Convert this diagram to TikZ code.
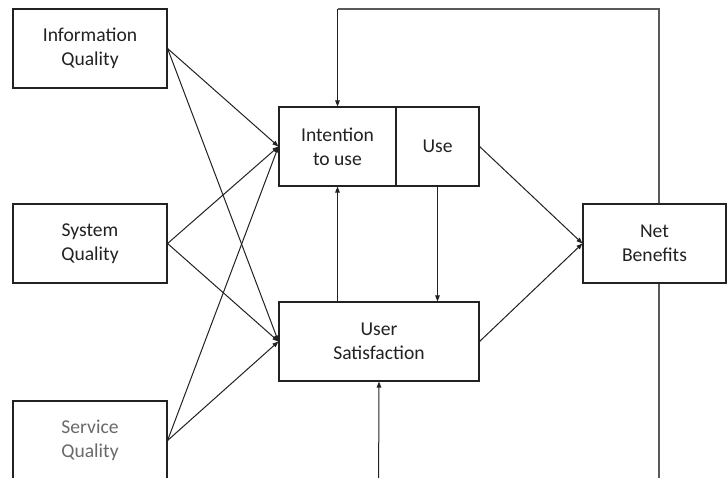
\documentclass[tikz,border=0pt]{standalone}
\usepackage{fontspec}
\setmainfont{Carlito}
\usetikzlibrary{arrows.meta}
\definecolor{ink}{HTML}{222222}
\definecolor{fade}{HTML}{6A6A6A}
\begin{document}
\begin{tikzpicture}[x=1pt,y=-1pt,
  box/.style={draw=ink, line width=1.1pt, fill=white, text=ink, align=center,
    minimum height=79pt, inner sep=0pt, font=\fontsize{19.6}{24}\selectfont},
  conn/.style={draw=ink, line width=1pt, -{Triangle[length=6pt,width=4.5pt]}},
  loop/.style={draw=ink!75, line width=1.2pt}]
\useasboundingbox (0,0) rectangle (727,478);
\clip (0,0) rectangle (727,478);
\fill[white] (0,0) rectangle (727,478);
% feedback corners
\coordinate (tr) at (659,9);
\coordinate (tl) at (337.5,9);
\coordinate (br) at (659,500);
\coordinate (bl) at (378.5,500);
% nodes
\node[box, minimum width=154pt] (info) at (90,48.5) {Information\\Quality};
\node[box, minimum width=154pt] (sys) at (90,243.5) {System\\Quality};
\node[box, minimum width=154pt, text=fade] (serv) at (90,440.5) {Service\\Quality};
\node[box, minimum width=117pt] (int) at (337.5,146.5) {Intention\\to use};
\node[box, minimum width=83pt] (use) at (437.5,146.5) {Use};
\node[box, minimum width=200pt] (us) at (379,341.5) {User\\Satisfaction};
\node[box, minimum width=143pt] (nb) at (654.5,243.5) {Net\\Benefits};
% feedback
\draw[loop] ([xshift=4.5pt]nb.north) -- (tr) -- (tl);
\draw[conn] (tl) -- (int.north);
\draw[loop] ([xshift=4.5pt]nb.south) -- (br) -- (bl);
\draw[conn] (bl) -- (us.south);
% left arrows
\foreach \s in {info,sys,serv}{
  \draw[conn] (\s.east) -- (int.west);
  \draw[conn] (\s.east) -- (us.west);
}
% middle
\draw[conn] (us.north -| int.south) -- (int.south);
\draw[conn] (use.south) -- (use.south |- us.north);
\draw[conn] (use.east) -- (nb.west);
\draw[conn] (us.east) -- (nb.west);
\end{tikzpicture}
\end{document}
